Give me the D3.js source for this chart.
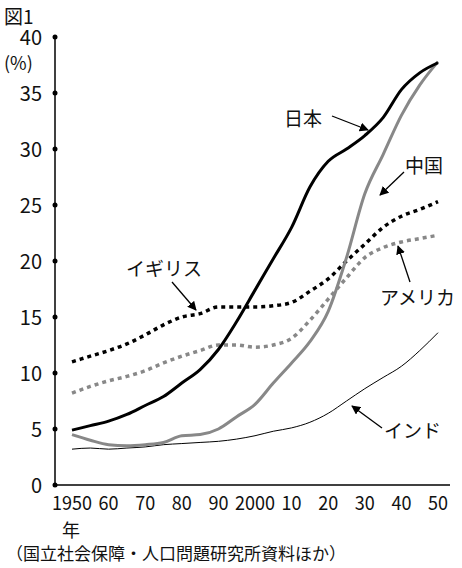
<!DOCTYPE html><html><head><meta charset="utf-8"><script src="https://cdn.jsdelivr.net/npm/d3@7"></script>
<style>body{margin:0;background:#fff}text{font-family:"Noto Sans CJK JP";fill:#111}</style></head><body><svg id="c" width="462" height="568"></svg><script>
const years=[1950,1955,1960,1965,1970,1975,1980,1985,1990,1995,2000,2005,2010,2015,2020,2025,2030,2035,2040,2045,2050];
const japan=[4.9,5.3,5.7,6.3,7.1,7.9,9.1,10.3,12.1,14.6,17.4,20.2,23.0,26.6,28.9,30.0,31.2,32.8,35.3,36.8,37.7];
const china=[4.5,4.0,3.6,3.5,3.6,3.8,4.4,4.5,5.0,6.1,7.2,9.1,10.9,12.8,15.5,20.3,26.0,29.5,33.0,35.7,37.8];
const uk=[11.0,11.5,12.0,12.6,13.4,14.3,15.0,15.3,15.9,15.9,15.9,16.0,16.3,17.3,18.4,20.0,21.5,23.0,24.0,24.6,25.3];
const usa=[8.2,8.8,9.3,9.7,10.2,10.9,11.5,12.0,12.5,12.5,12.3,12.5,13.1,14.7,16.6,18.5,20.3,21.2,21.7,22.0,22.3];
const india=[3.2,3.3,3.2,3.3,3.4,3.6,3.7,3.8,3.9,4.1,4.4,4.8,5.1,5.6,6.4,7.5,8.6,9.6,10.6,12.0,13.6];
const yTicks=[0,5,10,15,20,25,30,35,40];
const xTickYears=[1950,1960,1970,1980,1990,2000,2010,2020,2030,2040,2050];
const xTickLabels=["1950","60","70","80","90","2000","10","20","30","40","50"];
const svg=d3.select("#c");
const x=d3.scaleLinear().domain([1950,2050]).range([72,438]);
const y=d3.scaleLinear().domain([0,40]).range([485,37]);
svg.append("line").attr("x1",55).attr("x2",55).attr("y1",y(40)).attr("y2",y(0)).attr("stroke","#000").attr("stroke-width",1.5);
svg.append("line").attr("x1",55).attr("x2",450).attr("y1",y(0)).attr("y2",y(0)).attr("stroke","#000").attr("stroke-width",1.5);
yTicks.forEach(t=>{svg.append("circle").attr("cx",55).attr("cy",y(t)).attr("r",2.5).attr("fill","#000");
 svg.append("text").attr("x",42).attr("y",y(t)+8).attr("text-anchor","end").attr("font-size",20).text(t);});
xTickYears.forEach((t,i)=>{svg.append("text").attr("x",x(t)).attr("y",510).attr("text-anchor","middle").attr("font-size",19).attr("textLength",xTickLabels[i].length>2?40:20).attr("lengthAdjust","spacingAndGlyphs").text(xTickLabels[i]);});
svg.append("text").attr("x",4).attr("y",24).attr("font-size",19).text("図1");
svg.append("text").attr("x",4).attr("y",70).attr("font-size",18).text("(%)");
svg.append("text").attr("x",62).attr("y",537).attr("font-size",18).text("年");
svg.append("text").attr("x",6).attr("y",560).attr("font-size",17).text("（国立社会保障・人口問題研究所資料ほか）");
const line=d3.line().x((d,i)=>x(years[i])).y(d=>y(d)).curve(d3.curveMonotoneX);
const add=(data,col,w,dash)=>svg.append("path").attr("d",line(data)).attr("fill","none").attr("stroke",col).attr("stroke-width",w).attr("stroke-dasharray",dash||null);
add(india,"#000",1);add(usa,"#888",3.5,"4,4");add(uk,"#000",3.5,"4,4");add(china,"#888",3);add(japan,"#000",3);
svg.append("defs").append("marker").attr("id","a").attr("viewBox","0 0 10 10").attr("refX",9).attr("refY",5).attr("markerWidth",7).attr("markerHeight",7).attr("orient","auto").append("path").attr("d","M0,0L10,5L0,10z").attr("fill","#000");
const lab=(t,tx,ty,x1,y1,x2,y2)=>{svg.append("text").attr("x",tx).attr("y",ty).attr("font-size",19).text(t);
 svg.append("line").attr("x1",x1).attr("y1",y1).attr("x2",x2).attr("y2",y2).attr("stroke","#000").attr("stroke-width",1.3).attr("marker-end","url(#a)");};
lab("日本",284,126,332,116,368,130);
lab("中国",405,173,404,172,380,195);
lab("イギリス",126,276,172,282,196,310);
lab("アメリカ",380,305,410,282,398,246);
lab("インド",384,438,382,428,352,406);
</script></body></html>
